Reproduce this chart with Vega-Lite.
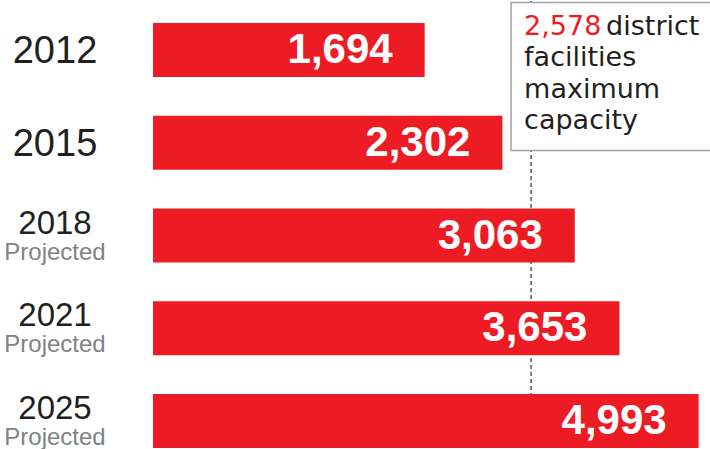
{
  "$schema": "https://vega.github.io/schema/vega-lite/v6.json",
  "padding": 0,
  "background": "white",
  "config": {"view": {"stroke": null}},
  "datasets": {
    "years": [
      {"year": "2012", "count": 1694, "status": ""},
      {"year": "2015", "count": 2302, "status": ""},
      {"year": "2018", "count": 3063, "status": "Projected"},
      {"year": "2021", "count": 3653, "status": "Projected"},
      {"year": "2025", "count": 4993, "status": "Projected"}
    ],
    "capacity": [
      {"value": 2578, "word": "district", "rest": ["facilities", "maximum", "capacity"]}
    ]
  },
  "spacing": 43,
  "hconcat": [
    {
      "width": 110,
      "height": 449,
      "data": {"name": "years"},
      "encoding": {
        "y": {"field": "year", "type": "nominal", "axis": null,
              "scale": {"type": "band", "paddingInner": 0.418, "paddingOuter": 0.1295, "align": 0.917}}
      },
      "layer": [
        {
          "transform": [{"filter": "datum.status != 'Projected'"}],
          "mark": {"type": "text", "font": "Liberation Sans", "fontSize": 38, "color": "#231f20", "baseline": "alphabetic", "dy": 13},
          "encoding": {"text": {"field": "year", "type": "nominal"}}
        },
        {
          "transform": [{"filter": "datum.status == 'Projected'"}],
          "mark": {"type": "text", "font": "Liberation Sans", "fontSize": 33, "color": "#231f20", "baseline": "alphabetic", "dy": -2},
          "encoding": {"text": {"field": "year", "type": "nominal"}}
        },
        {
          "transform": [{"filter": "datum.status == 'Projected'"}],
          "mark": {"type": "text", "font": "Liberation Sans", "fontSize": 24, "color": "#808285", "baseline": "alphabetic", "dy": 24},
          "encoding": {"text": {"field": "status", "type": "nominal"}}
        }
      ]
    },
    {
      "width": 557,
      "height": 449,
      "layer": [
        {
          "data": {"name": "capacity"},
          "mark": {"type": "rule", "strokeDash": [4, 3], "color": "#555555", "strokeWidth": 1.5},
          "encoding": {
            "x": {"field": "value", "type": "quantitative", "axis": null,
                  "scale": {"type": "log", "domain": [580, 5222], "nice": false}}
          }
        },
        {
          "data": {"name": "years"},
          "mark": {"type": "bar", "color": "#ed1c24"},
          "encoding": {
            "y": {"field": "year", "type": "nominal", "axis": null,
                  "scale": {"type": "band", "paddingInner": 0.418, "paddingOuter": 0.1295, "align": 0.917}},
            "x": {"field": "count", "type": "quantitative", "axis": null,
                  "scale": {"type": "log", "domain": [580, 5222], "nice": false}},
            "x2": {"datum": 580}
          }
        },
        {
          "data": {"name": "years"},
          "mark": {"type": "text", "align": "right", "baseline": "middle", "dx": -32,
                   "font": "Liberation Sans", "fontWeight": "bold", "fontSize": 42, "color": "white"},
          "encoding": {
            "y": {"field": "year", "type": "nominal", "axis": null,
                  "scale": {"type": "band", "paddingInner": 0.418, "paddingOuter": 0.1295, "align": 0.917}},
            "x": {"field": "count", "type": "quantitative", "axis": null,
                  "scale": {"type": "log", "domain": [580, 5222], "nice": false}},
            "text": {"field": "count", "type": "quantitative", "format": ","}
          }
        },
        {
          "data": {"name": "capacity"},
          "mark": {"type": "rect", "fill": "white", "stroke": "#a3a3a3", "strokeWidth": 1.5,
                   "width": 240, "height": 148, "xOffset": 100, "yOffset": 26.5, "clip": true},
          "encoding": {
            "x": {"field": "value", "type": "quantitative", "axis": null,
                  "scale": {"type": "log", "domain": [580, 5222], "nice": false}},
            "y": {"datum": "2012", "type": "nominal", "axis": null,
                  "scale": {"type": "band", "paddingInner": 0.418, "paddingOuter": 0.1295, "align": 0.917}}
          }
        },
        {
          "data": {"name": "capacity"},
          "mark": {"type": "text", "align": "left", "baseline": "alphabetic", "dx": -7, "dy": -15,
                   "font": "DejaVu Sans", "fontSize": 27, "color": "#ed1c24"},
          "encoding": {
            "x": {"field": "value", "type": "quantitative", "axis": null,
                  "scale": {"type": "log", "domain": [580, 5222], "nice": false}},
            "y": {"datum": "2012", "type": "nominal", "axis": null,
                  "scale": {"type": "band", "paddingInner": 0.418, "paddingOuter": 0.1295, "align": 0.917}},
            "text": {"field": "value", "type": "quantitative", "format": ","}
          }
        },
        {
          "data": {"name": "capacity"},
          "mark": {"type": "text", "align": "left", "baseline": "alphabetic", "dx": 75, "dy": -15,
                   "font": "DejaVu Sans", "fontSize": 27, "color": "#231f20"},
          "encoding": {
            "x": {"field": "value", "type": "quantitative", "axis": null,
                  "scale": {"type": "log", "domain": [580, 5222], "nice": false}},
            "y": {"datum": "2012", "type": "nominal", "axis": null,
                  "scale": {"type": "band", "paddingInner": 0.418, "paddingOuter": 0.1295, "align": 0.917}},
            "text": {"field": "word", "type": "nominal"}
          }
        },
        {
          "data": {"name": "capacity"},
          "mark": {"type": "text", "align": "left", "baseline": "alphabetic", "dx": -7, "dy": 16, "lineHeight": 31.5,
                   "font": "DejaVu Sans", "fontSize": 27, "color": "#231f20"},
          "encoding": {
            "x": {"field": "value", "type": "quantitative", "axis": null,
                  "scale": {"type": "log", "domain": [580, 5222], "nice": false}},
            "y": {"datum": "2012", "type": "nominal", "axis": null,
                  "scale": {"type": "band", "paddingInner": 0.418, "paddingOuter": 0.1295, "align": 0.917}},
            "text": {"field": "rest", "type": "nominal"}
          }
        }
      ]
    }
  ]
}
